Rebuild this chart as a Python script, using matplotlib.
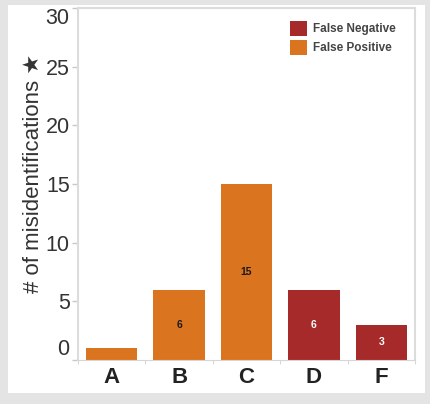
import matplotlib.pyplot as plt
from matplotlib.patches import Rectangle, Patch

plt.rcParams['font.family'] = ['Liberation Sans', 'DejaVu Sans']

categories = ['A', 'B', 'C', 'D', 'F']
counts = [1, 6, 15, 6, 3]
kinds = ['False Positive', 'False Positive', 'False Positive', 'False Negative', 'False Negative']
show_label = [False, True, True, True, True]

colors = {'False Negative': '#A62A2A', 'False Positive': '#DA741F'}
label_colors = {'False Negative': 'white', 'False Positive': '#1a1a1a'}

fig = plt.figure(figsize=(4.3, 4.04), dpi=100, facecolor='#e4e4e4')
# white inner panel
fig.patches.append(Rectangle((8 / 430, 1 - 393 / 404), 417 / 430, 388 / 404,
                             transform=fig.transFigure, facecolor='white',
                             edgecolor='none', zorder=-5))

ax = fig.add_axes([78 / 430, 1 - 360 / 404, 337 / 430, 352 / 404])
ax.set_zorder(2)
x = range(len(categories))
bars = ax.bar(x, counts, width=0.76, color=[colors[k] for k in kinds])

for rect, val, kind, show in zip(bars, counts, kinds, show_label):
    if show:
        ax.text(rect.get_x() + rect.get_width() / 2, val / 2, str(val),
                ha='center', va='center', fontsize=7.5, fontweight='bold',
                color=label_colors[kind])

ax.set_xlim(-0.5, 4.5)
ax.set_ylim(0, 30)
ax.set_yticks(range(0, 31, 5))
ax.set_xticks(list(x))
ax.set_xticklabels(categories, fontsize=16, fontweight='bold', color='#222222')
ax.set_xticks([i - 0.5 for i in range(len(categories) + 1)], minor=True)
ax.tick_params(axis='y', labelsize=15.5, labelcolor='#333333', color='#c8c8c8',
               length=4, width=1, pad=2)
ax.tick_params(axis='x', which='major', length=0, pad=5)
ax.tick_params(axis='x', which='minor', length=3, color='#d0d0d0')
ylabels = ax.get_yticklabels()
ylabels[0].set_va('bottom')
ylabels[-1].set_va('top')

for side in ['top', 'right', 'left']:
    ax.spines[side].set_color('#dcdcdc')
    ax.spines[side].set_linewidth(1.5)
ax.spines['bottom'].set_color('#d6d6d6')

ax.set_ylabel('# of misidentifications \u2605', fontsize=16, color='#333333')
ax.yaxis.set_label_coords(-0.10, 0.53)

handles = [Patch(facecolor=colors['False Negative'], label='False Negative'),
           Patch(facecolor=colors['False Positive'], label='False Positive')]
leg = ax.legend(handles=handles, loc='upper left', frameon=False,
                fontsize=8.5, handlelength=1.45, handleheight=1.55,
                handletextpad=0.5, labelspacing=0.35, borderaxespad=0,
                borderpad=0, bbox_to_anchor=((290 - 78) / 337, 1 - 13 / 352))
for t in leg.get_texts():
    t.set_color('#444444')
    t.set_fontweight('bold')

fig.savefig('out.png', dpi=100, facecolor=fig.get_facecolor())
